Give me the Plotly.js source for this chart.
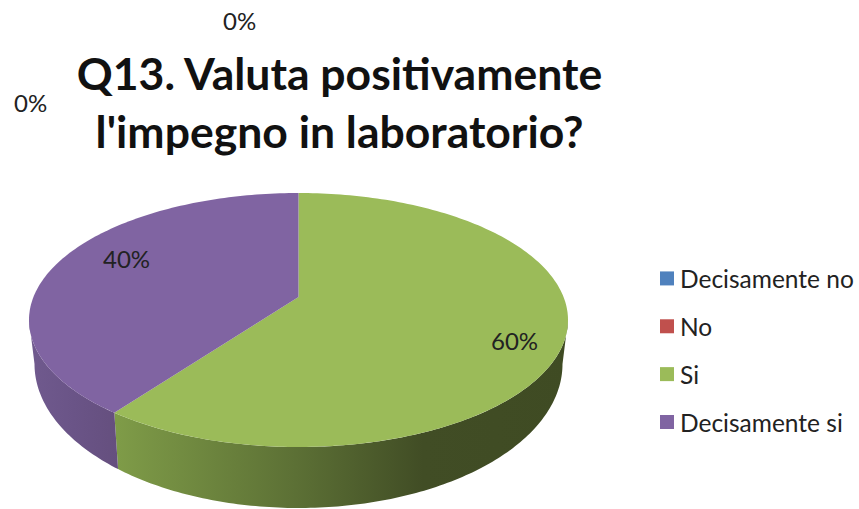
<!DOCTYPE html>
<html>
<head>
<meta charset="utf-8">
<script src="https://cdn.plot.ly/plotly-3.0.1.min.js"></script>
<style>html,body{margin:0;padding:0;background:#fff}#c{width:859px;height:509px}</style>
</head>
<body>
<div id="c"></div>
<script>
const categories = ['Decisamente no', 'No', 'Si', 'Decisamente si'];
const shares = [0, 0, 60, 40];
const sliceColors = ['#4f81bd', '#c0504d', '#9bbb59', '#8064a2'];
const labelSpots = [[239, 20], [30, 102], [514, 340], [126, 258]];
const chartTitle = "Q13. Valuta positivamente<br>l'impegno in laboratorio?";

// pie geometry in the page-sized data space of the hidden axes
const apex = {x: 298.5, y: 297};
const top3d = {cx: 298.5, cy: 320, rx: 269.5, ry: 127};
const base3d = {cx: 298.5, cy: 364, rx: 264, ry: 144};
const sideScale = {
  2: [[0, '#7f9c48'], [0.4, '#5c7035'], [0.68, '#414d25'], [1, '#3f4b23']],
  3: [[0, '#705a8e'], [0.5, '#6a5487'], [1, '#654f7e']]
};

const rad = d => d * Math.PI / 180;
const at = (e, t) => [e.cx + e.rx * Math.sin(t), e.cy - e.ry * Math.cos(t)];

// parameter on the top ellipse hit by the ray out of the apex at share-angle a
function rimParam(a) {
  const dx = Math.sin(a) * top3d.rx, dy = -Math.cos(a) * 123;
  const ox = (apex.x - top3d.cx) / top3d.rx, oy = (apex.y - top3d.cy) / top3d.ry;
  const ux = dx / top3d.rx, uy = dy / top3d.ry;
  const A = ux * ux + uy * uy, B = 2 * (ox * ux + oy * uy), C = ox * ox + oy * oy - 1;
  const s = (-B + Math.sqrt(B * B - 4 * A * C)) / (2 * A);
  const px = ox + s * ux, py = oy + s * uy;
  let t = Math.atan2(px, -py);
  if (t < -1e-6) t += 2 * Math.PI;
  return t;
}
function arc(e, t0, t1) {
  const n = Math.max(2, Math.ceil(Math.abs(t1 - t0) / rad(1)));
  const pts = [];
  for (let i = 0; i <= n; i++) pts.push(at(e, t0 + (t1 - t0) * i / n));
  return pts;
}
const traces = [];
const total = shares.reduce((a, b) => a + b, 0);
let acc = 0;
const faces = [];
shares.forEach((v, i) => {
  if (v > 0) {
    const a0 = acc / total * 2 * Math.PI, a1 = (acc + v) / total * 2 * Math.PI;
    const t0 = rimParam(a0), t1 = a1 >= 2 * Math.PI - 1e-9 ? 2 * Math.PI : rimParam(a1);
    // visible wall: lower half of the rim only
    const w0 = Math.max(t0, rad(90)), w1 = Math.min(t1, rad(270));
    if (w1 > w0) {
      const poly = arc(top3d, w0, w1).concat(arc(base3d, w1, w0));
      poly.push(poly[0]);
      traces.push({
        x: poly.map(p => p[0]), y: poly.map(p => p[1]), mode: 'none', fill: 'toself',
        fillgradient: {type: 'horizontal', colorscale: sideScale[i]},
        showlegend: false, hoverinfo: 'skip'
      });
    }
    const face = [[apex.x, apex.y]].concat(arc(top3d, t0, t1));
    face.push([apex.x, apex.y]);
    faces.push({
      x: face.map(p => p[0]), y: face.map(p => p[1]), mode: 'none', fill: 'toself',
      fillcolor: sliceColors[i], showlegend: false, hoverinfo: 'skip'
    });
  }
  acc += v;
});
faces.forEach(f => traces.push(f));

categories.forEach((c, i) => traces.push({
  x: [null], y: [null], mode: 'markers', name: c, legendgroup: c, hoverinfo: 'skip',
  marker: {symbol: 'square', size: 14, color: sliceColors[i]}
}));

const layout = {
  width: 859, height: 509,
  margin: {l: 0, r: 0, t: 0, b: 0},
  paper_bgcolor: '#fff', plot_bgcolor: '#fff',
  font: {family: 'Lato, sans-serif', color: '#222'},
  xaxis: {range: [0, 859], visible: false, fixedrange: true},
  yaxis: {range: [509, 0], visible: false, fixedrange: true},
  title: {
    text: chartTitle, x: 339.5 / 859, xanchor: 'center', y: 1 - 90 / 509, yanchor: 'top',
    font: {family: 'Lato, sans-serif', size: 44.5, weight: 700, color: '#111'}
  },
  legend: {
    x: 640 / 859, xanchor: 'left', y: 1 - 256 / 509, yanchor: 'top',
    traceorder: 'grouped', tracegroupgap: 13, itemwidth: 30, bgcolor: 'rgba(0,0,0,0)',
    font: {family: 'Lato, sans-serif', size: 24.5, color: '#222'}
  },
  annotations: shares.map((v, i) => ({
    x: labelSpots[i][0], y: labelSpots[i][1], xref: 'x', yref: 'y',
    text: v + '%', showarrow: false, xanchor: 'center', yanchor: 'middle',
    font: {family: 'Lato, sans-serif', size: 24, color: '#222'}
  }))
};
Plotly.newPlot('c', traces, layout, {displayModeBar: false, staticPlot: true}).then(() => {
  document.querySelectorAll('#c .legendsymbols').forEach(n => {
    n.setAttribute('transform', 'translate(7,0)');
  });
});
</script>
</body>
</html>
